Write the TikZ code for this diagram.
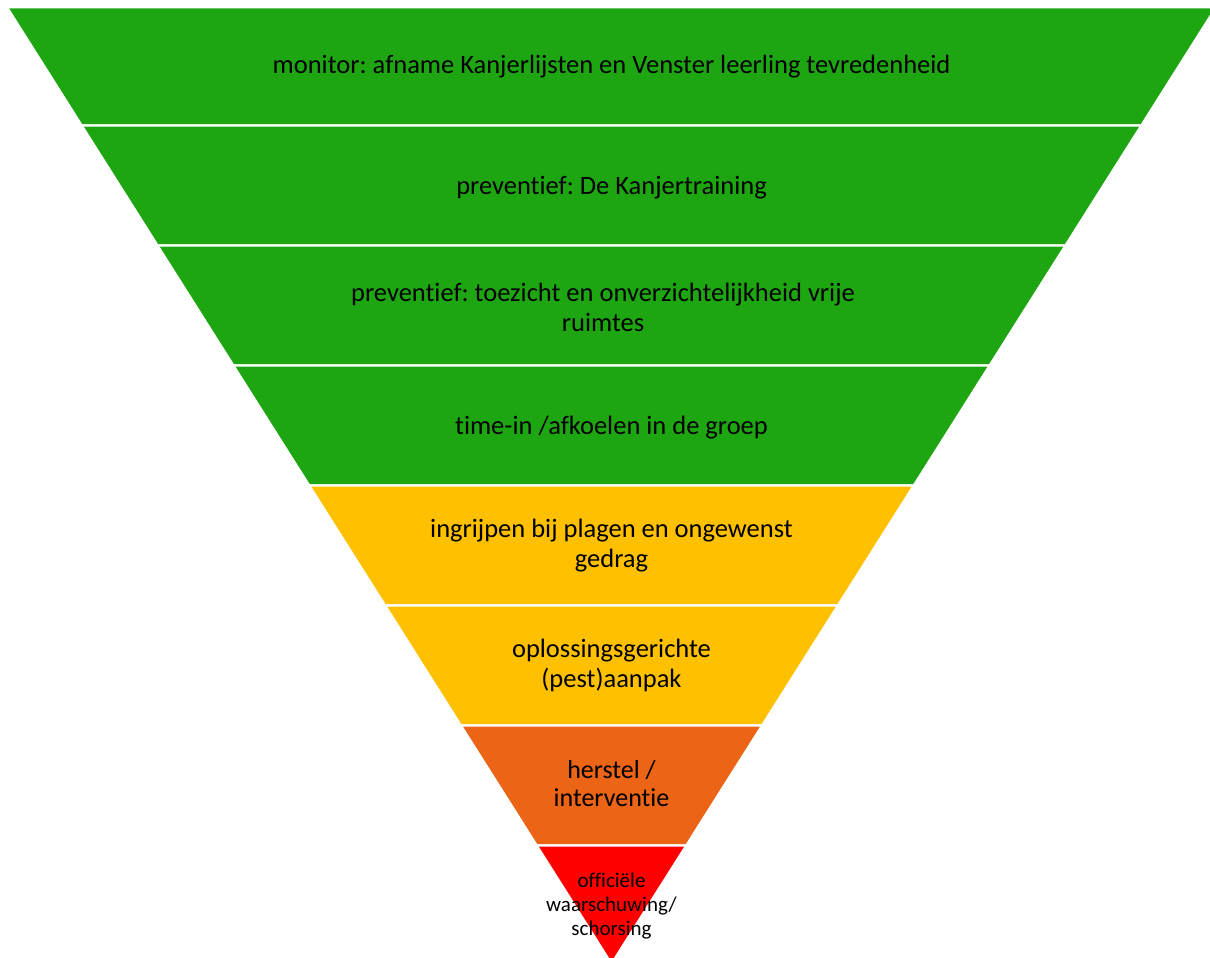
\documentclass[tikz,border=0pt]{standalone}
\usepackage{fontspec}
\setmainfont{Carlito}[Ligatures=NoCommon]
\definecolor{kgreen}{RGB}{30,166,18}
\definecolor{kyellow}{RGB}{255,192,0}
\definecolor{korange}{RGB}{236,100,22}
\definecolor{kred}{RGB}{255,0,0}
\tikzset{
  lbl/.style={align=center, inner sep=0pt, text=black},
  fA/.style={font=\fontsize{26.5}{30}\selectfont},
  fD/.style={font=\fontsize{26}{28}\selectfont},
  fE/.style={font=\fontsize{21}{24}\selectfont},
}
\frenchspacing
\begin{document}
\begin{tikzpicture}[x=1pt,y=-1pt]
\useasboundingbox (0,0) rectangle (1210,958);
\clip (0,0) rectangle (1210,958);
\foreach \t/\b/\c in {8.5/124/kgreen, 126.7/244/kgreen, 246.7/364/kgreen, 366.7/484/kgreen, 486.7/604/kyellow, 606.7/724/kyellow, 726.7/844/korange, 846.7/961.4/kred}{
  \pgfmathsetmacro\ht{0.632*(961.4-\t)}
  \pgfmathsetmacro\hb{0.632*(961.4-\b)}
  \fill[\c] (611.5-\ht,\t) -- (611.5+\ht,\t) -- (611.5+\hb,\b) -- (611.5-\hb,\b) -- cycle;
}
\node[lbl,fA] (t1) at (611.5,67) {monitor: afname Kanjerlijsten en Venster leerling tevredenheid};
\node[lbl,fA] (t2) at (611.5,188) {preventief: De Kanjertraining};
\node[lbl,fA] (t3) at (603,307.5) {preventief: toezicht en onverzichtelijkheid vrije\\ruimtes};
\node[lbl,fA] (t4) at (611.5,428) {time-in /afkoelen in de groep};
\node[lbl,fA] (t5) at (611.5,546) {ingrijpen bij plagen en ongewenst\\gedrag};
\node[lbl,fA] (t6) at (611.5,665.5) {oplossingsgerichte\\(pest)aanpak};
\node[lbl,fD] (t7) at (611.5,784) {herstel /\\interventie};
\node[lbl,fE] (t8) at (611.5,906) {officiële\\waarschuwing/\\schorsing};
\end{tikzpicture}
\end{document}
